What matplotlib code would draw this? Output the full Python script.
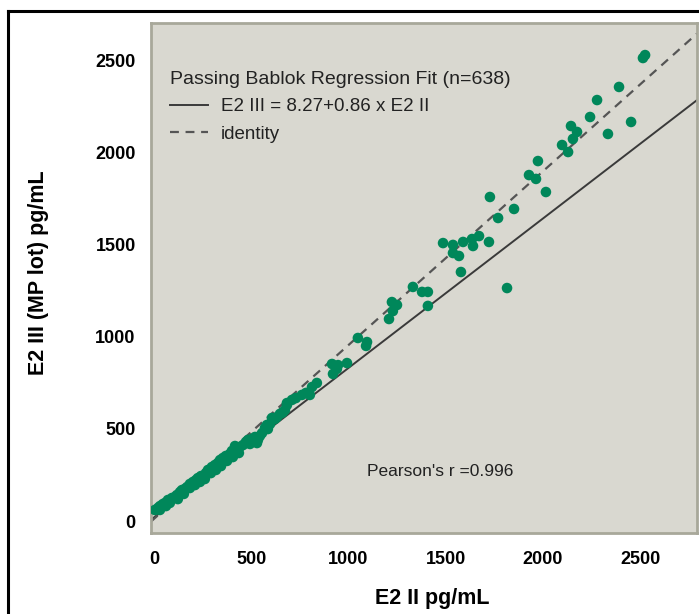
import numpy as np
import matplotlib
matplotlib.use('Agg')
import matplotlib.pyplot as plt
from matplotlib.lines import Line2D

# E2 II (x) vs E2 III MP lot (y), pg/mL
e2_ii = [2526, 2515, 2392, 2279, 2243, 2145, 2176, 2155, 2099, 2130, 2454, 2335,
         1975, 1929, 1965, 2016, 1728, 1852, 1770, 1487, 1538, 1590, 1636, 1672,
         1723, 1641, 1538, 1569, 1579, 1816, 1332, 1379, 1409, 1409, 1224, 1250,
         1229, 1209, 1049, 1096, 1091, 916, 947, 993, 921, 941, 838, 813,
         761, 802, 782, 684, 664, 648, 607,
         5, 21, 31, 46, 57, 72, 93, 108, 118, 134, 144, 159, 170, 185, 201, 216,
         226, 242, 252, 267, 278, 288, 298, 314, 329, 340, 355, 370, 391, 401,
         417, 427, 442, 458, 473, 484, 504, 520, 530, 545, 556, 571, 581, 597,
         622, 633, 658, 674, 684, 710, 730,
         31, 62, 82, 123, 154, 185, 211, 237, 262, 293, 319, 345, 376, 406, 437,
         494, 535, 586]
e2_iii = [2528, 2512, 2355, 2284, 2192, 2143, 2111, 2073, 2040, 2002, 2165, 2100,
          1953, 1877, 1856, 1785, 1758, 1693, 1644, 1508, 1498, 1514, 1530, 1546,
          1514, 1492, 1454, 1438, 1351, 1264, 1270, 1243, 1243, 1167, 1188, 1172,
          1139, 1096, 993, 971, 950, 852, 846, 857, 798, 825, 749, 727,
          684, 684, 695, 640, 591, 581, 559,
          60, 71, 81, 92, 98, 114, 125, 130, 141, 157, 168, 174, 184, 201, 212, 222,
          233, 244, 239, 260, 277, 277, 293, 304, 315, 331, 342, 353, 364, 380,
          407, 374, 402, 412, 429, 440, 445, 456, 423, 461, 477, 505, 521, 526,
          553, 564, 586, 602, 629, 657, 667,
          60, 81, 98, 119, 147, 179, 195, 212, 228, 260, 277, 298, 326, 347, 369,
          418, 440, 499]

fit_intercept = 8.27
fit_slope = 0.86
n_samples = 638
pearson_r = 0.996

x_ticks = [0, 500, 1000, 1500, 2000, 2500]
y_ticks = [0, 500, 1000, 1500, 2000, 2500]

fam = ['Liberation Sans', 'DejaVu Sans']
plt.rcParams['font.family'] = fam

bg = '#d9d8d0'
green = '#00875a'

fig = plt.figure(figsize=(6.99, 6.14), dpi=100)
ax2 = fig.add_axes([151/699, 1-533/614, 546/699, 510/614])
ax = fig.add_axes(ax2.get_position(), sharex=ax2)
ax.set_zorder(ax2.get_zorder() + 1)
ax.patch.set_visible(False)
ax2.set_facecolor(bg)

# data axes (matches the printed tick labels)
ax.set_xlim(-15, 2793)
ax.set_ylim(-65, 2702)
ax.scatter(e2_ii, e2_iii, s=58, color=green, edgecolors='none', zorder=3)

# the two reference lines sit on their own scale, as drawn in the figure
ax2.set_ylim(-81, 2854)
xl = np.array(ax.get_xlim())
fit_line, = ax2.plot(xl, fit_intercept + fit_slope * xl, color='#3a3a3a', lw=1.4)
id_line, = ax2.plot(xl, xl, color='#555555', lw=1.6, ls=(0, (4, 3)))
ax2.set_yticks([])
ax2.tick_params(axis='x', length=0, labelbottom=False)
for s in ax2.spines.values():
    s.set_visible(False)

ax.set_xticks(x_ticks)
ax.set_yticks(y_ticks)
ax.tick_params(length=0, labelsize=13)
ax.tick_params(axis='x', pad=13)
ax.tick_params(axis='y', pad=11)
for lab in ax.get_xticklabels() + ax.get_yticklabels():
    lab.set_fontweight('bold')
for s in ax.spines.values():
    s.set_color('#a8a89a')
    s.set_linewidth(2)

ax.set_xlabel('E2 II pg/mL', fontsize=15.5, fontweight='bold')
ax.set_ylabel('E2 III (MP lot) pg/mL', fontsize=15.5, fontweight='bold')
ax.xaxis.set_label_coords(0.516, -0.108)
ax.yaxis.set_label_coords(-0.187, 0.51)

leg = ax.legend([fit_line, id_line],
                ['E2 III = {}+{} x E2 II'.format(fit_intercept, fit_slope), 'identity'],
                title='Passing Bablok Regression Fit (n={})'.format(n_samples),
                loc='upper left', bbox_to_anchor=(170/699, 1-71/614),
                bbox_transform=fig.transFigure, frameon=False, alignment='left',
                handlelength=2.0, handletextpad=0.7, borderpad=0, borderaxespad=0,
                labelspacing=0.55, prop={'size': 13.5})
leg.get_title().set_fontsize(14)
leg.get_title().set_color('#222222')
for t in leg.get_texts():
    t.set_color('#222222')

ax.text(0.396, 0.12, "Pearson's r ={}".format(pearson_r), transform=ax.transAxes,
        fontsize=12.5, color='#222222', va='center')

# outer frame of the original figure
fig.add_artist(Line2D([8/699, 1], [1-11/614, 1-11/614], color='black', lw=2.2,
                      transform=fig.transFigure))
fig.add_artist(Line2D([8/699, 8/699], [0, 1-11/614], color='black', lw=2.2,
                      transform=fig.transFigure))

fig.savefig('out.png', dpi=100)
